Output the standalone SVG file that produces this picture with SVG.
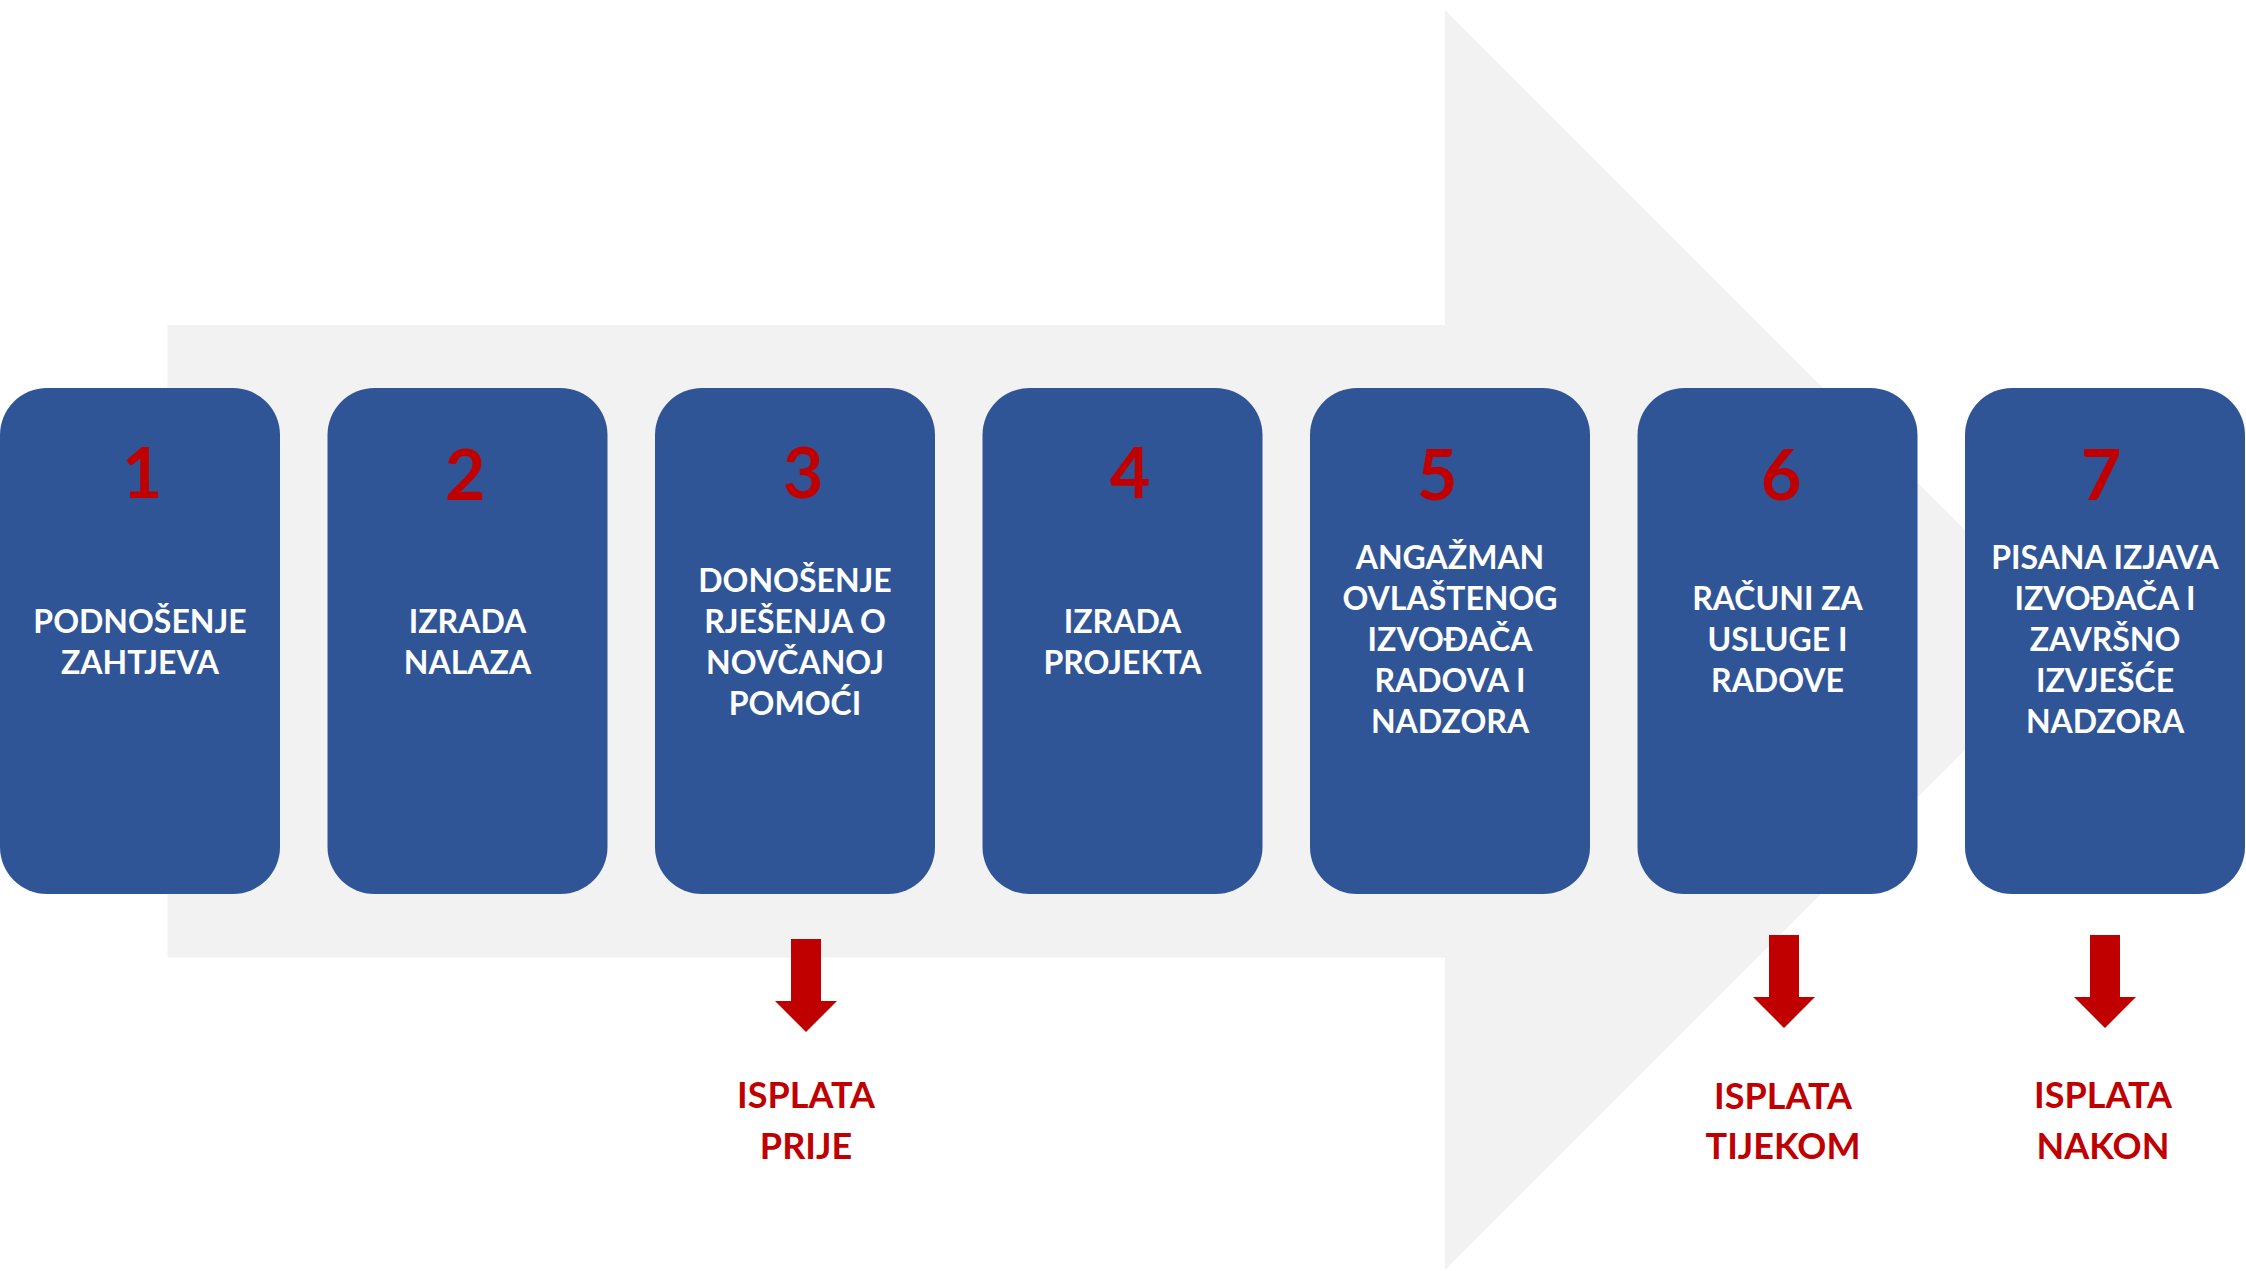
<svg xmlns="http://www.w3.org/2000/svg" width="2246" height="1271" viewBox="0 0 2246 1271">
<style>
.bg{fill:#F2F2F2}
.box{fill:#2F5597}
.num{fill:#C00000;font-family:Lato,"Open Sans",sans-serif;font-weight:700;font-size:70px;text-anchor:middle}
.lbl{fill:#FFFFFF;font-family:Lato,"Open Sans",sans-serif;font-weight:700;font-size:32px;text-anchor:middle}
.pay{fill:#C00000;font-family:Lato,"Open Sans",sans-serif;font-weight:700;font-size:36px;text-anchor:middle}
.arr{fill:#C00000}
</style>
<rect width="2246" height="1271" fill="#FFFFFF"/>
<polygon id="big-arrow" class="bg" points="167.5,325 1445,325 1445,10 2075,640 1445,1270 1445,957.5 167.5,957.5"/>

<g id="step1">
<rect class="box" x="0" y="388" width="280" height="506" rx="47" ry="47"/>
<text class="num" x="142" y="498">1</text>
<text class="lbl" x="140" y="632.5">PODNOŠENJE</text>
<text class="lbl" x="140" y="673.5">ZAHTJEVA</text>
</g>
<g id="step2">
<rect class="box" x="327.5" y="388" width="280" height="506" rx="47" ry="47"/>
<text class="num" x="465" y="500">2</text>
<text class="lbl" x="467.5" y="632.5">IZRADA</text>
<text class="lbl" x="467.5" y="673.5">NALAZA</text>
</g>
<g id="step3">
<rect class="box" x="655" y="388" width="280" height="506" rx="47" ry="47"/>
<text class="num" x="803" y="498">3</text>
<text class="lbl" x="795" y="591.5">DONOŠENJE</text>
<text class="lbl" x="795" y="632.5">RJEŠENJA O</text>
<text class="lbl" x="795" y="673.5">NOVČANOJ</text>
<text class="lbl" x="795" y="714.5">POMOĆI</text>
</g>
<g id="step4">
<rect class="box" x="982.5" y="388" width="280" height="506" rx="47" ry="47"/>
<text class="num" x="1130" y="498">4</text>
<text class="lbl" x="1122.5" y="632.5">IZRADA</text>
<text class="lbl" x="1122.5" y="673.5">PROJEKTA</text>
</g>
<g id="step5">
<rect class="box" x="1310" y="388" width="280" height="506" rx="47" ry="47"/>
<text class="num" x="1437" y="500">5</text>
<text class="lbl" x="1450" y="569">ANGAŽMAN</text>
<text class="lbl" x="1450" y="610">OVLAŠTENOG</text>
<text class="lbl" x="1450" y="651">IZVOĐAČA</text>
<text class="lbl" x="1450" y="692">RADOVA I</text>
<text class="lbl" x="1450" y="733">NADZORA</text>
</g>
<g id="step6">
<rect class="box" x="1637.5" y="388" width="280" height="506" rx="47" ry="47"/>
<text class="num" x="1781" y="500">6</text>
<text class="lbl" x="1777.5" y="610">RAČUNI ZA</text>
<text class="lbl" x="1777.5" y="651">USLUGE I</text>
<text class="lbl" x="1777.5" y="692">RADOVE</text>
</g>
<g id="step7">
<rect class="box" x="1965" y="388" width="280" height="506" rx="47" ry="47"/>
<text class="num" x="2101" y="500">7</text>
<text class="lbl" x="2105" y="569">PISANA IZJAVA</text>
<text class="lbl" x="2105" y="610">IZVOĐAČA I</text>
<text class="lbl" x="2105" y="651">ZAVRŠNO</text>
<text class="lbl" x="2105" y="692">IZVJEŠĆE</text>
<text class="lbl" x="2105" y="733">NADZORA</text>
</g>

<g id="connectors">
<polygon class="arr" points="791,939 821,939 821,1001 837,1001 806,1032 775,1001 791,1001"/>
<polygon class="arr" points="1769,935 1799,935 1799,997 1815,997 1784,1028 1753,997 1769,997"/>
<polygon class="arr" points="2090,935 2120,935 2120,997 2136,997 2105,1028 2074,997 2090,997"/>
</g>

<g id="pay-before">
<text class="pay" x="806" y="1108">ISPLATA</text>
<text class="pay" x="806" y="1159">PRIJE</text>
</g>
<g id="pay-during">
<text class="pay" x="1783" y="1109">ISPLATA</text>
<text class="pay" x="1783" y="1159">TIJEKOM</text>
</g>
<g id="pay-after">
<text class="pay" x="2103" y="1108">ISPLATA</text>
<text class="pay" x="2103" y="1159">NAKON</text>
</g>
</svg>
